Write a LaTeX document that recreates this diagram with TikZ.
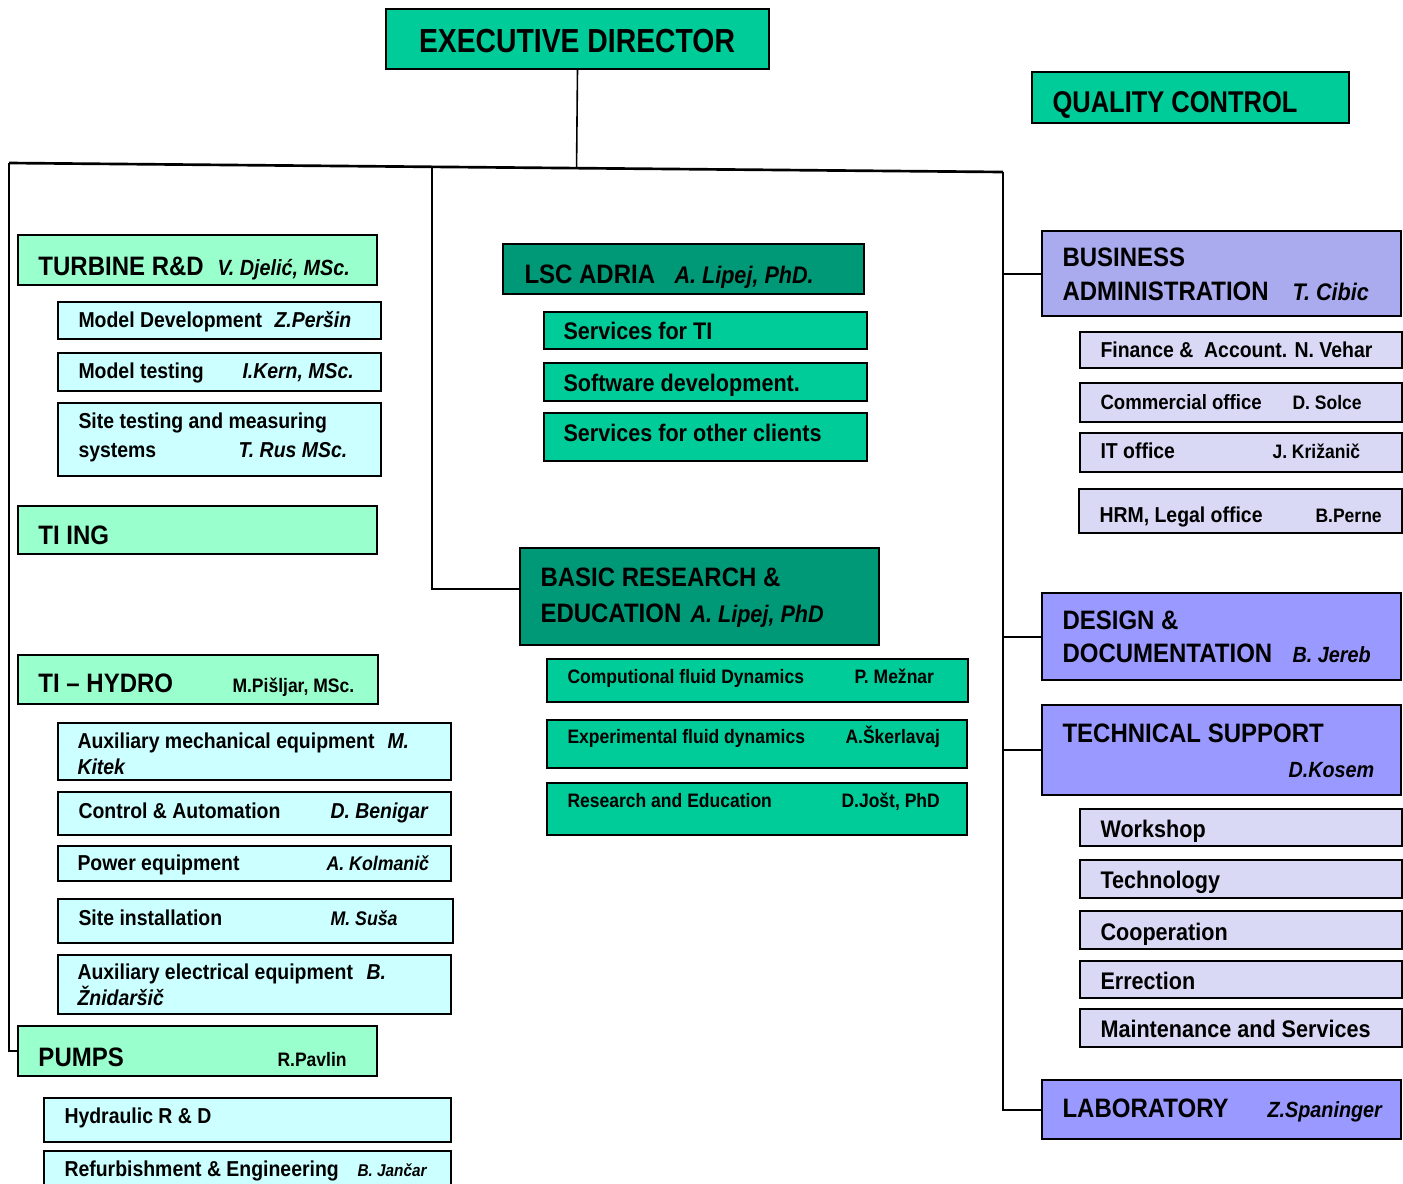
\documentclass[tikz,border=0pt]{standalone}
\usepackage{fontspec}
\setmainfont{Liberation Sans}[FakeStretch=0.9]
\newfontfamily\narrowsans{Liberation Sans}[FakeStretch=0.85]
\usetikzlibrary{fit,calc}

\definecolor{topgreen}{RGB}{0,204,153}
\definecolor{darkgreen}{RGB}{0,153,119}
\definecolor{palegreen}{RGB}{153,255,204}
\definecolor{palecyan}{RGB}{204,255,255}
\definecolor{adminblue}{RGB}{170,170,238}
\definecolor{deptblue}{RGB}{153,153,255}
\definecolor{paleblue}{RGB}{217,217,245}

\tikzset{every picture/.style={line width=0.75pt}}
\tikzset{
  box/.style={draw=black, line width=2pt, inner sep=0pt, outer sep=0pt},
  topbox/.style={box, fill=topgreen},
  lscbox/.style={box, fill=darkgreen},
  unitbox/.style={box, fill=palegreen},
  subbox/.style={box, fill=palecyan},
  adminbox/.style={box, fill=adminblue},
  deptbox/.style={box, fill=deptblue},
  officebox/.style={box, fill=paleblue},
  link/.style={line width=1.5pt},
  lbl/.style={anchor=base west, inner sep=0pt},
  exectxt/.style={lbl, font=\narrowsans\bfseries\fontsize{25}{30}\selectfont},
  headtxt/.style={lbl, font=\bfseries\fontsize{20}{24}\selectfont},
  headname/.style={lbl, font=\bfseries\itshape\fontsize{16.5}{20}\selectfont},
  bigname/.style={lbl, font=\bfseries\itshape\fontsize{18}{22}\selectfont},
  subtxt/.style={lbl, font=\bfseries\fontsize{16.2}{19}\selectfont},
  subname/.style={lbl, font=\bfseries\itshape\fontsize{16.2}{19}\selectfont},
  smallname/.style={lbl, font=\bfseries\fontsize{14.6}{17}\selectfont},
  tinyname/.style={lbl, font=\bfseries\itshape\fontsize{12.8}{15}\selectfont},
  lsctxt/.style={lbl, font=\bfseries\fontsize{18}{22}\selectfont},
  cfdtxt/.style={lbl, font=\bfseries\fontsize{14.6}{17}\selectfont},
}

\begin{document}
\begin{tikzpicture}[x=0.75pt,y=0.75pt,yscale=-1,xscale=1]
	\clip (0,0) rectangle (1403,1183);
	
	%Top boxes
	\node [topbox, fit={(386,9) (769,69)}] (exec) {};
	\node [exectxt, anchor=base] (execT) at (577,52) {EXECUTIVE DIRECTOR};
	\node [topbox, fit={(1032,72) (1349,123)}] (quality) {};
	\node [headtxt, font=\narrowsans\bfseries\fontsize{22.5}{27}\selectfont] (qualityT) at (1052,112) {QUALITY CONTROL};
	
	%Left column: turbine R&D
	\node [unitbox, fit={(18,235) (377,285)}] (turbine) {};
	\node [headtxt] (turbineT) at (38,275) {TURBINE R\&D};
	\node [headname] (turbineN) at (217,275) {V. Djelić, MSc.};
	\node [subbox, fit={(58,302) (381,339)}] (mdev) {};
	\node [subtxt] (mdevT) at (78,327) {Model Development};
	\node [subname] (mdevN) at (274,327) {Z.Peršin};
	\node [subbox, fit={(58,353) (381,391)}] (mtest) {};
	\node [subtxt] (mtestT) at (78,378) {Model testing};
	\node [subname] (mtestN) at (242,378) {I.Kern, MSc.};
	\node [subbox, fit={(58,403) (381,476)}] (sitetest) {};
	\node [subtxt] (sitetestT) at (78,428) {Site testing and measuring};
	\node [subtxt] (sitetestT2) at (78,457) {systems};
	\node [subname] (sitetestN) at (238,457) {T. Rus MSc.};
	
	%TI ING
	\node [unitbox, fit={(18,506) (377,554)}] (tiing) {};
	\node [headtxt] (tiingT) at (38,544) {TI ING};
	
	%TI - HYDRO
	\node [unitbox, fit={(18,655) (378,704)}] (hydro) {};
	\node [headtxt] (hydroT) at (38,692) {TI – HYDRO};
	\node [smallname] (hydroN) at (232,692) {M.Pišljar, MSc.};
	\node [subbox, fit={(58,723) (451,780)}] (auxmech) {};
	\node [subtxt] (auxmechT) at (77,748) {Auxiliary mechanical equipment};
	\node [subname] (auxmechN) at (387,748) {M.};
	\node [subname] (auxmechN2) at (77,774) {Kitek};
	\node [subbox, fit={(58,792) (451,835)}] (control) {};
	\node [subtxt] (controlT) at (78,818) {Control \& Automation};
	\node [subname] (controlN) at (330,818) {D. Benigar};
	\node [subbox, fit={(58,846) (451,881)}] (power) {};
	\node [subtxt] (powerT) at (77,870) {Power equipment};
	\node [subname, font=\bfseries\itshape\fontsize{14.8}{18}\selectfont] (powerN) at (326,870) {A. Kolmanič};
	\node [subbox, fit={(58,899) (453,943)}] (siteinst) {};
	\node [subtxt] (siteinstT) at (78,925) {Site installation};
	\node [subname, font=\bfseries\itshape\fontsize{14.8}{18}\selectfont] (siteinstN) at (330,925) {M. Suša};
	\node [subbox, fit={(58,955) (451,1014)}] (auxel) {};
	\node [subtxt] (auxelT) at (77,979) {Auxiliary electrical equipment};
	\node [subname] (auxelN) at (366,979) {B.};
	\node [subname] (auxelN2) at (77,1005) {Žnidaršič};
	
	%Pumps
	\node [unitbox, fit={(18,1026) (377,1076)}] (pumps) {};
	\node [headtxt] (pumpsT) at (38,1066) {PUMPS};
	\node [smallname] (pumpsN) at (277,1066) {R.Pavlin};
	\node [subbox, fit={(44,1098) (451,1142)}] (hydraulic) {};
	\node [subtxt] (hydraulicT) at (64,1123) {Hydraulic R \& D};
	\node [subbox, fit={(44,1151) (451,1195)}] (refurb) {};
	\node [subtxt] (refurbT) at (64,1176) {Refurbishment \& Engineering};
	\node [tinyname] (refurbN) at (357,1176) {B. Jančar};
	
	%Centre: LSC ADRIA
	\node [lscbox, fit={(503,244) (864,294)}] (lsc) {};
	\node [headtxt] (lscT) at (524,283) {LSC ADRIA};
	\node [bigname] (lscN) at (674,283) {A. Lipej, PhD.};
	\node [topbox, fit={(544,312) (867,349)}] (svcti) {};
	\node [lsctxt] (svctiT) at (563,339) {Services for TI};
	\node [topbox, fit={(544,363) (867,401)}] (soft) {};
	\node [lsctxt] (softT) at (563,391) {Software development.};
	\node [topbox, fit={(544,413) (867,461)}] (svcother) {};
	\node [lsctxt] (svcotherT) at (563,441) {Services for other clients};
	
	%Centre: basic research
	\node [lscbox, fit={(520,548) (879,645)}] (basic) {};
	\node [headtxt] (basicT) at (540,586) {BASIC RESEARCH \&};
	\node [headtxt] (basicT2) at (540,622) {EDUCATION};
	\node [bigname] (basicN) at (690,622) {A. Lipej, PhD};
	\node [topbox, fit={(547,659) (968,702)}] (cfd) {};
	\node [cfdtxt] (cfdT) at (567,683) {Computional fluid Dynamics};
	\node [cfdtxt] (cfdN) at (854,683) {P. Mežnar};
	\node [topbox, fit={(547,720) (967,768)}] (efd) {};
	\node [cfdtxt] (efdT) at (567,743) {Experimental fluid dynamics};
	\node [cfdtxt] (efdN) at (845,743) {A.Škerlavaj};
	\node [topbox, fit={(547,783) (967,835)}] (resed) {};
	\node [cfdtxt] (resedT) at (567,807) {Research and Education};
	\node [cfdtxt] (resedN) at (841,807) {D.Jošt, PhD};
	
	%Right: business administration
	\node [adminbox, fit={(1042,231) (1401,316)}] (busadm) {};
	\node [headtxt] (busadmT) at (1062,266) {BUSINESS};
	\node [headtxt] (busadmT2) at (1062,300) {ADMINISTRATION};
	\node [bigname] (busadmN) at (1292,300) {T. Cibic};
	\node [officebox, fit={(1080,332) (1402,368)}] (finance) {};
	\node [subtxt] (financeT) at (1100,357) {Finance \&\ \ Account. N. Vehar};
	\node [officebox, fit={(1080,383) (1402,422)}] (commerce) {};
	\node [subtxt, font=\bfseries\fontsize{15.5}{18}\selectfont] (commerceT) at (1100,409) {Commercial office};
	\node [smallname] (commerceN) at (1292,409) {D. Solce};
	\node [officebox, fit={(1080,433) (1402,472)}] (itoff) {};
	\node [subtxt] (itoffT) at (1100,458) {IT office};
	\node [smallname] (itoffN) at (1272,458) {J. Križanič};
	\node [officebox, fit={(1079,489) (1402,533)}] (hrm) {};
	\node [subtxt] (hrmT) at (1099,522) {HRM, Legal office};
	\node [smallname] (hrmN) at (1315,522) {B.Perne};
	
	%Right: design, technical support, laboratory
	\node [deptbox, fit={(1042,593) (1401,680)}] (design) {};
	\node [headtxt] (designT) at (1062,629) {DESIGN \&};
	\node [headtxt] (designT2) at (1062,662) {DOCUMENTATION};
	\node [headname] (designN) at (1292,662) {B. Jereb};
	\node [deptbox, fit={(1042,705) (1401,795)}] (tech) {};
	\node [headtxt] (techT) at (1062,742) {TECHNICAL SUPPORT};
	\node [headname] (techN) at (1288,777) {D.Kosem};
	\node [officebox, fit={(1080,809) (1402,846)}] (workshop) {};
	\node [lsctxt] (workshopT) at (1100,837) {Workshop};
	\node [officebox, fit={(1080,860) (1402,898)}] (technology) {};
	\node [lsctxt] (technologyT) at (1100,888) {Technology};
	\node [officebox, fit={(1080,911) (1402,949)}] (coop) {};
	\node [lsctxt] (coopT) at (1100,940) {Cooperation};
	\node [officebox, fit={(1080,961) (1402,998)}] (erection) {};
	\node [lsctxt] (erectionT) at (1100,989) {Errection};
	\node [officebox, fit={(1080,1009) (1402,1047)}] (maint) {};
	\node [lsctxt] (maintT) at (1100,1037) {Maintenance and Services};
	\node [deptbox, fit={(1042,1080) (1401,1139)}] (lab) {};
	\node [headtxt] (labT) at (1062,1117) {LABORATORY};
	\node [headname] (labN) at (1267,1117) {Z.Spaninger};
	
	%Main bar and branches
	\coordinate (barL) at (9,163);
	\coordinate (barR) at (1003,172);
	\coordinate (barM) at (432,167);
	\draw [line width=2pt] (barL) -- (barR) ;
	\draw [line width=1.2pt] (exec.south) -- ($(barL)!(exec.south)!(barR)$) ;
	\draw [link] (barL) |- (pumps.west) ;
	\draw [link] (barM) |- ([yshift=-5.6pt]basic.west) ;
	\draw [link] (barR) |- (lab.west) ;
	\draw [link] (barR |- busadm.west) -- (busadm.west) ;
	\draw [link] (barR |- design.west) -- (design.west) ;
	\draw [link] (barR |- tech.west) -- (tech.west) ;
	
\end{tikzpicture}
\end{document}
